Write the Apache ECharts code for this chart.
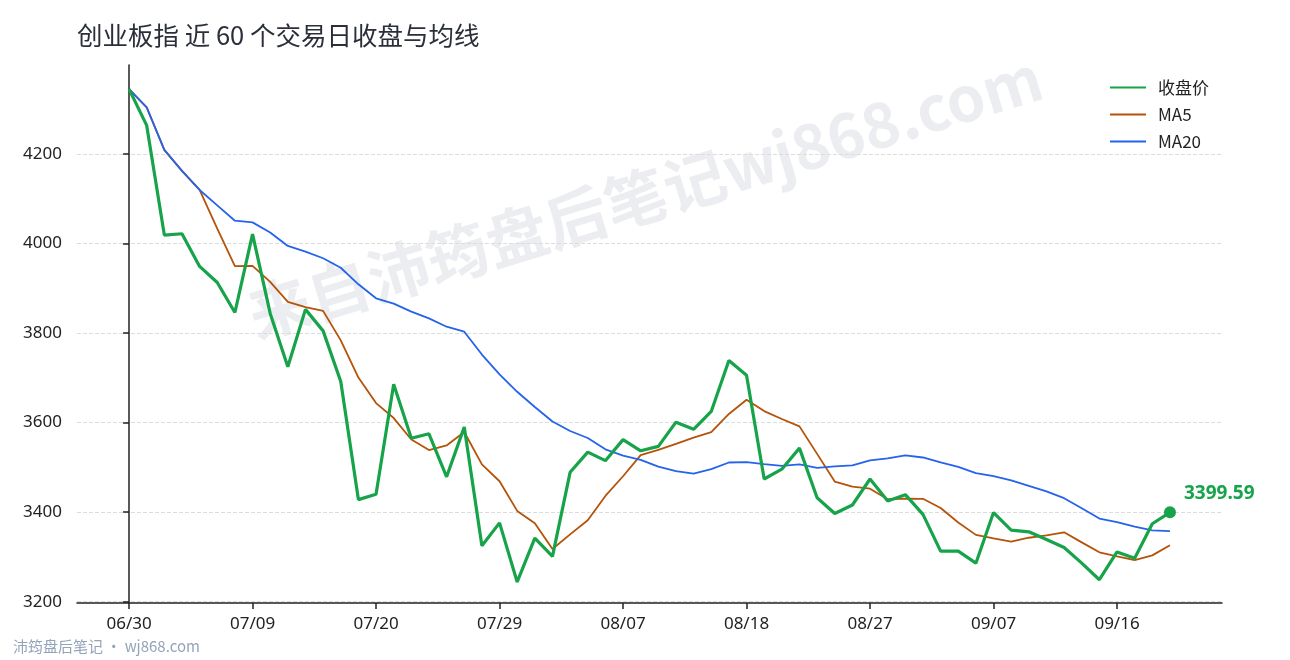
<!DOCTYPE html>
<html>
<head>
<meta charset="utf-8">
<title>创业板指 近 60 个交易日收盘与均线</title>
<script src="https://cdn.jsdelivr.net/npm/echarts@6/dist/echarts.min.js"></script>
<style>
  html, body { margin: 0; padding: 0; background: #fff; }
  #chart { width: 1290px; height: 660px; }
</style>
</head>
<body>
<div id="chart"></div>
<script>
// trading days shown on the x axis
const dates = [
  '06/30','07/01','07/02','07/03','07/04','07/07','07/08','07/09','07/10','07/11',
  '07/14','07/15','07/16','07/17','07/20','07/21','07/22','07/23','07/24','07/27',
  '07/28','07/29','07/30','07/31','08/01','08/04','08/05','08/06','08/07','08/08',
  '08/11','08/12','08/13','08/14','08/15','08/18','08/19','08/20','08/21','08/22',
  '08/25','08/26','08/27','08/28','08/29','09/01','09/02','09/03','09/04','09/07',
  '09/08','09/09','09/10','09/11','09/14','09/15','09/16','09/17','09/18','09/21'
];

const closePrice = [
  4345, 4264, 4019, 4022, 3949, 3913, 3846, 4021, 3844, 3725,
  3853, 3805, 3692, 3428, 3440, 3686, 3565, 3575, 3479, 3590,
  3325, 3376, 3244, 3342, 3301, 3489, 3534, 3515, 3562, 3537,
  3547, 3601, 3585, 3625, 3739, 3706, 3474, 3496, 3543, 3432,
  3397, 3416, 3474, 3425, 3439, 3395, 3313, 3313, 3286, 3399,
  3360, 3356, 3339, 3321, 3286, 3249, 3311, 3297, 3374, 3399.59
];

const ma5 = [
  4345, 4304.5, 4209.3, 4162.5, 4119.8, 4033.4, 3949.8, 3950.2, 3914.6, 3869.8,
  3857.8, 3849.6, 3783.8, 3700.6, 3643.6, 3610.2, 3562.2, 3538.8, 3549.0, 3579.0,
  3506.8, 3469.0, 3402.8, 3375.4, 3317.6, 3350.4, 3382.0, 3436.2, 3480.2, 3527.4,
  3539.0, 3552.4, 3566.4, 3579.0, 3619.4, 3651.2, 3625.8, 3608.0, 3591.6, 3530.2,
  3468.4, 3456.8, 3452.4, 3428.8, 3430.2, 3429.8, 3409.2, 3377.0, 3349.2, 3341.2,
  3334.2, 3342.8, 3348.0, 3355.0, 3332.4, 3310.2, 3301.2, 3292.8, 3303.4, 3326.2
];

const ma20 = [
  4345, 4304.5, 4209.3, 4162.5, 4119.8, 4085.3, 4051.1, 4047.4, 4024.8, 3994.8,
  3981.9, 3967.2, 3946.0, 3909.0, 3877.7, 3865.8, 3848.1, 3832.9, 3814.3, 3803.1,
  3752.1, 3707.7, 3668.9, 3634.9, 3602.5, 3581.3, 3565.7, 3540.4, 3526.3, 3516.9,
  3501.6, 3491.4, 3486.1, 3495.9, 3510.9, 3511.9, 3507.3, 3503.4, 3506.6, 3498.7,
  3502.3, 3504.3, 3515.8, 3519.9, 3526.8, 3522.1, 3511.1, 3501.0, 3487.2, 3480.3,
  3470.9, 3458.7, 3446.4, 3431.2, 3408.5, 3385.7, 3377.5, 3367.6, 3359.1, 3357.5
];

const xTickIdx = [0, 7, 14, 21, 28, 35, 42, 49, 56];
const yTicks = [3200, 3400, 3600, 3800, 4000, 4200];

const GREEN = '#16a34a';
const ORANGE = '#b45309';
const BLUE = '#2563eb';
const FONT = '"Noto Sans", "Noto Sans CJK SC", sans-serif';

function pairs(arr){
  return arr.map((v, i) => [i, v]);
}

let chart = echarts.init(document.getElementById('chart'));
let last = closePrice.length - 1;

let option = {
  animation: false,
  backgroundColor: '#fff',
  textStyle: { fontFamily: FONT },
  title: {
    text: '创业板指 近 60 个交易日收盘与均线',
    left: 77,
    top: 23,
    padding: 0,
    textStyle: { fontFamily: '"Noto Sans CJK SC", sans-serif', fontSize: 25.5, fontWeight: 'normal', color: '#2b2f3a' }
  },
  legend: {
    data: ['收盘价', 'MA5', 'MA20'],
    orient: 'vertical',
    left: 1109,
    top: 79,
    padding: 0,
    itemWidth: 36,
    itemHeight: 14,
    itemGap: 10,
    itemStyle: { opacity: 0 },
    textStyle: { fontSize: 17, color: '#222', padding: [0, 0, 0, 7], fontFamily: '"Noto Sans CJK SC", sans-serif' }
  },
  grid: { left: 77, right: 68, top: 65, bottom: 57, containLabel: false },
  xAxis: {
    type: 'value',
    min: -2.95,
    max: 61.95,
    axisLine: { show: true, lineStyle: { color: '#222', width: 1.5 } },
    axisTick: { show: true, length: 6, customValues: xTickIdx, lineStyle: { color: '#222', width: 1.5 } },
    axisLabel: {
      customValues: xTickIdx,
      margin: 13,
      fontSize: 17,
      color: '#222',
      formatter: v => dates[v]
    },
    splitLine: { show: false }
  },
  yAxis: {
    type: 'value',
    min: 3197,
    max: 4399,
    axisLine: { show: true, lineStyle: { color: '#222', width: 1.5 } },
    axisTick: { show: true, length: 6, customValues: yTicks, lineStyle: { color: '#222', width: 1.5 } },
    axisLabel: { customValues: yTicks, margin: 15, fontSize: 17, color: '#222', formatter: v => String(v) },
    splitLine: { show: true, lineStyle: { color: '#dcdcdc', type: 'dashed', width: 1 } }
  },
  graphic: [
    {
      type: 'text',
      x: 645,
      y: 196,
      rotation: 17 * Math.PI / 180,
      z: -10,
      silent: true,
      style: {
        text: '来自沛筠盘后笔记wj868.com',
        fill: 'rgba(100,116,139,0.13)',
        font: 'bold 62px "Noto Sans CJK SC", sans-serif',
        textAlign: 'center',
        textVerticalAlign: 'middle'
      }
    },
    {
      type: 'text',
      left: 13,
      top: 639,
      silent: true,
      style: {
        text: '沛筠盘后笔记 · wj868.com',
        fill: '#94a3b8',
        font: '15px "Noto Sans CJK SC", sans-serif'
      }
    }
  ],
  series: [
    {
      name: '收盘价',
      type: 'line',
      data: pairs(closePrice),
      symbol: 'none',
      color: GREEN,
      lineStyle: { width: 3.2, color: GREEN },
      z: 5
    },
    {
      name: 'MA5',
      type: 'line',
      data: pairs(ma5),
      symbol: 'none',
      color: ORANGE,
      lineStyle: { width: 1.8, color: ORANGE },
      z: 3
    },
    {
      name: 'MA20',
      type: 'line',
      data: pairs(ma20),
      symbol: 'none',
      color: BLUE,
      lineStyle: { width: 1.8, color: BLUE },
      z: 4
    },
    {
      name: 'last',
      type: 'scatter',
      data: [[last, closePrice[last]]],
      symbol: 'circle',
      symbolSize: 12,
      itemStyle: { color: GREEN, opacity: 1 },
      z: 6,
      label: {
        show: true,
        position: 'right',
        distance: 8,
        offset: [0, -19],
        formatter: p => p.value[1].toFixed(2),
        fontSize: 19,
        fontWeight: 'bold',
        color: GREEN
      }
    }
  ]
};

chart.setOption(option);
</script>
</body>
</html>
